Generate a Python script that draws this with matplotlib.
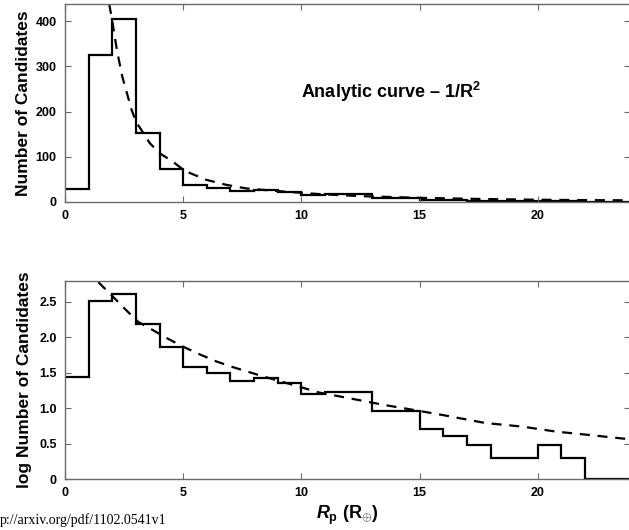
import numpy as np
import matplotlib
matplotlib.use("Agg")
import matplotlib.pyplot as plt

# histogram counts, 1 R_earth bins from 0 to 24
bin_edges = np.arange(0, 25, 1)
counts = np.array([28, 325, 405, 153, 73, 38, 31, 24, 27, 23, 16, 17,
                   17, 9, 9, 5, 4, 3, 2, 2, 3, 2, 0, 1])

# analytic ~1/R^2 curve
curve_x = [1.87, 2.0, 2.2, 2.42, 2.81, 3.0, 3.59, 4.0, 4.57, 5.06, 5.98,
           6.82, 7.67, 8.79, 9.92, 10.9, 12.5, 15.0, 17.5, 20.0, 22.0, 24.0]
curve_y = [438, 400, 335, 278, 205, 178, 130, 108, 89, 69, 49,
           38, 30, 25, 20.6, 17, 13, 9.2, 6.8, 5.0, 4.2, 3.7]

# same curve in the log panel
logcurve_x = [1.41, 2.04, 2.6, 3.09, 3.73, 4.36, 4.92, 5.70, 6.40, 7.10, 7.88,
              8.37, 9.84, 10.76, 12.03, 13.43, 14.84, 16.03, 17.79, 19.34,
              20.75, 22.22, 23.63, 24.0]
logcurve_y = [2.78, 2.57, 2.38, 2.22, 2.10, 1.98, 1.88, 1.76, 1.66, 1.58, 1.50,
              1.45, 1.31, 1.22, 1.14, 1.05, 0.97, 0.90, 0.79, 0.74,
              0.67, 0.62, 0.57, 0.56]

top_yticks = [0, 100, 200, 300, 400]
bot_yticks = [0, 0.5, 1.0, 1.5, 2.0, 2.5]
bot_ylabels = ["0", "0.5", "1.0", "1.5", "2.0", "2.5"]
xticks = [0, 5, 10, 15, 20]

plt.rcParams['font.family'] = ['Liberation Sans', 'DejaVu Sans']
plt.rcParams['font.weight'] = 'bold'
plt.rcParams['mathtext.fontset'] = 'custom'
plt.rcParams['mathtext.rm'] = 'Liberation Sans:bold'
plt.rcParams['mathtext.bf'] = 'Liberation Sans:bold'
plt.rcParams['mathtext.it'] = 'Liberation Sans:italic:bold'

W, H = 629, 530
fig = plt.figure(figsize=(W / 100, H / 100), dpi=100)

left = 65 / W
width = 565 / W
ax1 = fig.add_axes([left, 1 - 202 / H, width, 198 / H])
ax2 = fig.add_axes([left, 1 - 479 / H, width, 198.3 / H])

spine_col = '#6a6a6a'
for ax in (ax1, ax2):
    for s in ax.spines.values():
        s.set_color(spine_col)
        s.set_linewidth(1.0)
    ax.tick_params(direction='in', top=True, right=True, length=4,
                   color=spine_col, labelsize=9, pad=6)
    ax.set_xlim(0, 23.9)
    ax.set_xticks(xticks)
    ax.set_xticklabels([str(t) for t in xticks], fontweight='bold')

# top panel: raw counts
ax1.stairs(counts, bin_edges, baseline=None, color='black', linewidth=1.6)
ax1.plot(curve_x, curve_y, color='black', linewidth=1.6, linestyle=(0, (4.5, 3.5)))
ax1.set_ylim(0, 438)
ax1.set_yticks(top_yticks)
ax1.set_yticklabels([str(t) for t in top_yticks], fontweight='bold')
ax1.set_ylabel("Number of Candidates", fontsize=12.5, fontweight='bold')
ax1.yaxis.set_label_coords(-0.0607, 0.5)
ax1.text(10.0, 243, r"Analytic curve – 1/R$^{\mathbf{2}}$", fontsize=13,
         fontweight='bold', va='center', ha='left')

# bottom panel: log10 counts (empty bins sit on the axis)
logcounts = np.log10(np.where(counts > 0, counts, 1))
ax2.stairs(logcounts, bin_edges, baseline=None, color='black', linewidth=1.6)
ax2.plot(logcurve_x, logcurve_y, color='black', linewidth=1.6, linestyle=(0, (4.5, 3.5)))
ax2.set_ylim(0, 2.8)
ax2.set_yticks(bot_yticks)
ax2.set_yticklabels(bot_ylabels, fontweight='bold')
ax2.set_ylabel("log Number of Candidates", fontsize=12.5, fontweight='bold')
ax2.yaxis.set_label_coords(-0.0584, 0.5)
ax2.set_xlabel(r"$R_{\mathrm{p}}$ (R$_{\oplus}$)", fontsize=13, fontweight='bold', labelpad=3)

fig.text(0, 1 - 520 / H, "p://arxiv.org/pdf/1102.0541v1",
         family='Liberation Serif', fontweight='normal', fontsize=10,
         ha='left', va='center')

fig.savefig("out.png", dpi=100)
